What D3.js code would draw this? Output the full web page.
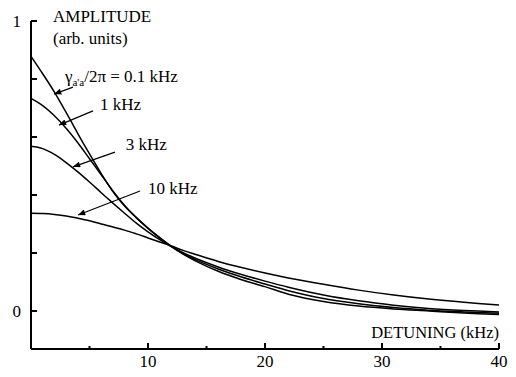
<!doctype html>
<html lang="en">
  <head>
    <meta charset="utf-8">
    <title>Amplitude vs detuning</title>
    <script src="https://d3js.org/d3.v7.min.js"></script>
    <style>
      body { margin: 0; background: #fff; }
    </style>
  </head>
  <body>
    <div id="chart"></div>
    <script>
      // detuning values (kHz) where the curves were read
      const detuning = [0, 1, 2, 3, 4, 5, 6, 7, 8, 9, 10, 11, 12, 13, 14, 16, 18, 20, 22, 25, 28, 31, 34, 37, 40];

      // amplitude (arb. units) for each linewidth
      const amp01 = [0.878, 0.818, 0.755, 0.685, 0.612, 0.542, 0.474, 0.412, 0.362, 0.322, 0.285, 0.252, 0.222, 0.196, 0.174, 0.137, 0.108, 0.084, 0.058, 0.033, 0.017, 0.007, 0.000, -0.007, -0.012];
      const amp1  = [0.733, 0.708, 0.673, 0.630, 0.580, 0.525, 0.470, 0.414, 0.364, 0.322, 0.286, 0.253, 0.223, 0.198, 0.178, 0.145, 0.117, 0.093, 0.070, 0.043, 0.025, 0.012, 0.003, -0.003, -0.008];
      const amp3  = [0.568, 0.560, 0.540, 0.512, 0.480, 0.445, 0.408, 0.372, 0.337, 0.303, 0.273, 0.246, 0.222, 0.201, 0.183, 0.152, 0.126, 0.103, 0.082, 0.055, 0.035, 0.020, 0.009, 0.002, -0.003];
      const amp10 = [0.337, 0.336, 0.333, 0.328, 0.320, 0.311, 0.300, 0.290, 0.279, 0.266, 0.252, 0.238, 0.224, 0.209, 0.196, 0.171, 0.150, 0.131, 0.114, 0.092, 0.072, 0.055, 0.041, 0.030, 0.021];

      const xTicks = [5, 10, 15, 20, 25, 30, 35, 40];
      const xLabels = [10, 20, 30, 40];
      const yTicks = [0, 0.2, 0.4, 0.6, 0.8, 1];
      const yLabels = [0, 1];

      // arrow annotations: label position, arrow tail and tip (data coords)
      const labels = [
        {text: "0.1 kHz", lx: 2.9, ly: 0.79, tail: [3.59, 0.772], tip: [1.97, 0.748]},
        {text: "1 kHz", lx: 5.9, ly: 0.693, tail: [5.30, 0.690], tip: [2.39, 0.641]},
        {text: "3 kHz", lx: 8.1, ly: 0.555, tail: [7.18, 0.548], tip: [3.59, 0.497]},
        {text: "10 kHz", lx: 10.0, ly: 0.403, tail: [9.32, 0.414], tip: [4.02, 0.331]}
      ];

      const font = "'Liberation Serif', 'DejaVu Serif', Times, serif";
      const width = 516, height = 377;
      const svg = d3.select("#chart")
        .append("svg")
          .attr("width", width)
          .attr("height", height)
          .attr("font-family", font);

      const x = d3.scaleLinear().domain([0, 40]).range([31, 499]);
      const y = d3.scaleLinear().domain([-0.131, 1]).range([349, 21]);

      // arrowhead
      svg.append("defs").append("marker")
          .attr("id", "head")
          .attr("viewBox", "0 0 12 10")
          .attr("refX", 12).attr("refY", 5)
          .attr("markerWidth", 11).attr("markerHeight", 6)
          .attr("markerUnits", "userSpaceOnUse")
          .attr("orient", "auto")
        .append("path")
          .attr("d", "M0,0 L12,5 L0,10 z")
          .attr("fill", "#000");

      // axes
      svg.append("line")
          .attr("x1", x(0)).attr("x2", x(0))
          .attr("y1", y(1)).attr("y2", y(-0.131))
          .attr("stroke", "#000").attr("stroke-width", 2);
      svg.append("line")
          .attr("x1", x(0)).attr("x2", x(40))
          .attr("y1", y(-0.131)).attr("y2", y(-0.131))
          .attr("stroke", "#000").attr("stroke-width", 2);

      svg.selectAll(".ytick")
        .data(yTicks)
        .enter().append("line")
          .attr("x1", x(0)).attr("x2", x(0) + 6)
          .attr("y1", d => y(d)).attr("y2", d => y(d))
          .attr("stroke", "#000").attr("stroke-width", 2);
      svg.selectAll(".ylab")
        .data(yLabels)
        .enter().append("text")
          .attr("x", x(0) - 10)
          .attr("y", d => y(d) + 6)
          .attr("text-anchor", "end")
          .attr("font-size", "17px")
          .text(d => d);

      svg.selectAll(".xtick")
        .data(xTicks)
        .enter().append("line")
          .attr("x1", d => x(d)).attr("x2", d => x(d))
          .attr("y1", y(-0.131)).attr("y2", d => y(-0.131) - (d % 10 === 0 ? 6 : 3))
          .attr("stroke", "#000").attr("stroke-width", 2);
      svg.selectAll(".xlab")
        .data(xLabels)
        .enter().append("text")
          .attr("x", d => x(d))
          .attr("y", 367)
          .attr("text-anchor", "middle")
          .attr("font-size", "17px")
          .text(d => d);

      // axis titles
      svg.append("text")
          .attr("x", 53).attr("y", 22)
          .attr("font-size", "17px")
          .text("AMPLITUDE");
      svg.append("text")
          .attr("x", 53).attr("y", 44)
          .attr("font-size", "17px")
          .text("(arb. units)");
      svg.append("text")
          .attr("x", x(40)).attr("y", 338)
          .attr("text-anchor", "end")
          .attr("font-size", "16.5px")
          .text("DETUNING (kHz)");

      // curves
      const series = [amp01, amp1, amp3, amp10];
      const line = d3.line()
        .x((d, i) => x(detuning[i]))
        .y(d => y(d))
        .curve(d3.curveCatmullRom.alpha(0.5));

      svg.selectAll(".curve")
        .data(series)
        .enter().append("path")
          .attr("d", d => line(d))
          .attr("fill", "none")
          .attr("stroke", "#000")
          .attr("stroke-width", 1.5);

      // arrows
      svg.selectAll(".arrow")
        .data(labels)
        .enter().append("line")
          .attr("x1", d => x(d.tail[0])).attr("y1", d => y(d.tail[1]))
          .attr("x2", d => x(d.tip[0])).attr("y2", d => y(d.tip[1]))
          .attr("stroke", "#000").attr("stroke-width", 1.2)
          .attr("marker-end", "url(#head)");

      // labels
      labels.forEach((d, i) => {
        const t = svg.append("text")
          .attr("x", x(d.lx)).attr("y", y(d.ly))
          .attr("font-size", "17px");
        if (i === 0) {
          t.append("tspan").text("\u03b3");
          t.append("tspan").attr("font-size", "11px").attr("dy", 4).text("a'a");
          t.append("tspan").attr("dy", -4).text("/2\u03c0 = " + d.text);
        } else {
          t.text(d.text);
        }
      });
    </script>
  </body>
</html>
